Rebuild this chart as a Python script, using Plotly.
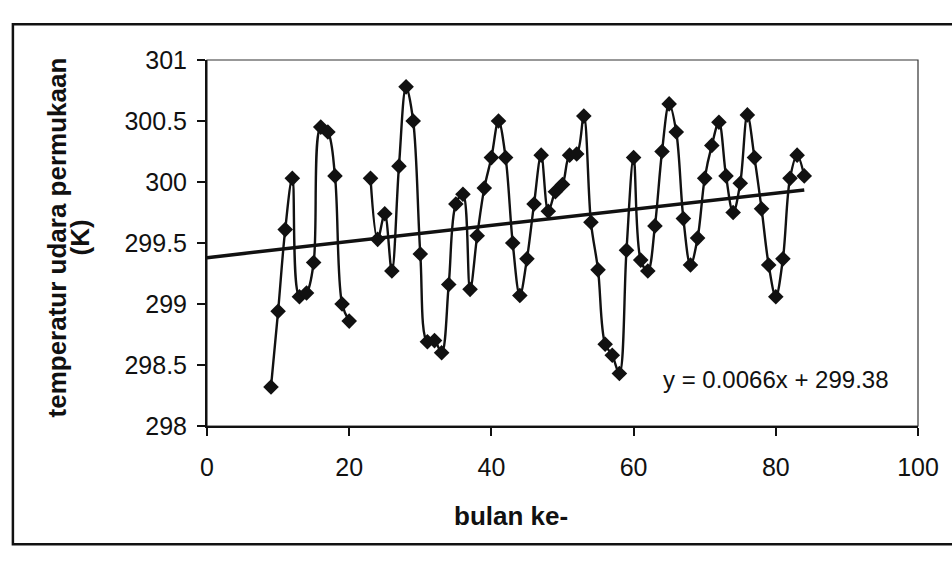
import plotly.graph_objects as go

# month index (bulan ke-); months 21 and 22 are missing in the source chart
months = [9, 10, 11, 12, 13, 14, 15, 16, 17, 18, 19, 20, 21, 22,
          23, 24, 25, 26, 27, 28, 29, 30, 31, 32, 33, 34, 35, 36, 37, 38,
          39, 40, 41, 42, 43, 44, 45, 46, 47, 48, 49, 50, 51, 52, 53, 54,
          55, 56, 57, 58, 59, 60, 61, 62, 63, 64, 65, 66, 67, 68, 69, 70,
          71, 72, 73, 74, 75, 76, 77, 78, 79, 80, 81, 82, 83, 84]

temperature = [298.32, 298.94, 299.61, 300.03, 299.06, 299.09, 299.34, 300.45, 300.41, 300.05, 299.00, 298.86, None, None,
               300.03, 299.53, 299.74, 299.27, 300.13, 300.78, 300.50, 299.41, 298.69, 298.70, 298.60, 299.16, 299.82, 299.90, 299.12, 299.56,
               299.95, 300.20, 300.50, 300.20, 299.50, 299.07, 299.37, 299.82, 300.22, 299.76, 299.92, 299.98, 300.22, 300.23, 300.54, 299.67,
               299.28, 298.67, 298.58, 298.43, 299.44, 300.20, 299.36, 299.27, 299.64, 300.25, 300.64, 300.41, 299.70, 299.32, 299.54, 300.03,
               300.30, 300.49, 300.05, 299.75, 299.99, 300.55, 300.20, 299.78, 299.32, 299.06, 299.37, 300.03, 300.22, 300.05]

# linear trend shown on the chart: y = 0.0066x + 299.38, drawn from month 0 to 84
trend_slope = 0.0066
trend_intercept = 299.38
trend_x = [0, 84]
trend_y = [trend_slope * x + trend_intercept for x in trend_x]

x_ticks = [0, 20, 40, 60, 80, 100]
y_ticks = [298, 298.5, 299, 299.5, 300, 300.5, 301]
y_tick_labels = ["298", "298.5", "299", "299.5", "300", "300.5", "301"]

FONT = "Liberation Sans, Arial, sans-serif"

fig = go.Figure()

fig.add_trace(go.Scatter(
    x=trend_x, y=trend_y, mode="lines",
    line=dict(color="#111111", width=3.5),
    hoverinfo="skip", showlegend=False,
))

fig.add_trace(go.Scatter(
    x=months, y=temperature, mode="lines+markers",
    connectgaps=False,
    line=dict(color="#111111", width=2.4, shape="spline", smoothing=1),
    marker=dict(symbol="diamond", size=12, color="#111111"),
    showlegend=False,
))

fig.add_annotation(
    x=80, y=298.38, xref="x", yref="y",
    text="y = 0.0066x + 299.38", showarrow=False,
    font=dict(family=FONT, size=24, color="#111111"),
    xanchor="center", yanchor="middle",
)

# y-axis title (two lines, rotated)
fig.add_annotation(
    x=-0.211, y=0.515, xref="paper", yref="paper",
    text="<b>temperatur udara permukaan</b>", showarrow=False, textangle=-90,
    font=dict(family=FONT, size=26, color="#111111"),
    xanchor="center", yanchor="middle",
)
fig.add_annotation(
    x=-0.18, y=0.515, xref="paper", yref="paper",
    text="<b>(K)</b>", showarrow=False, textangle=-90,
    font=dict(family=FONT, size=26, color="#111111"),
    xanchor="center", yanchor="middle",
)
# x-axis title
fig.add_annotation(
    x=0.428, y=-0.247, xref="paper", yref="paper",
    text="<b>bulan ke-</b>", showarrow=False,
    font=dict(family=FONT, size=26, color="#111111"),
    xanchor="center", yanchor="middle",
)

# plot-area border (thin) and chart-area frame
fig.add_shape(type="rect", xref="paper", yref="paper", x0=0, x1=1, y0=0, y1=1,
              line=dict(color="#333333", width=1.2), layer="below")
fig.add_shape(type="rect", xref="paper", yref="paper", x0=-0.273, x1=1.2, y0=-0.323, y1=1.098,
              line=dict(color="#111111", width=2.5), layer="below")

fig.update_xaxes(
    range=[0, 100], tickvals=x_ticks, ticktext=[str(v) for v in x_ticks],
    showline=True, linecolor="#111111", linewidth=2,
    ticks="outside", ticklen=8, tickwidth=2, tickcolor="#111111",
    showgrid=False, zeroline=False, ticklabelstandoff=10,
    tickfont=dict(family=FONT, size=25, color="#111111"),
)
fig.update_yaxes(
    range=[298, 301], tickvals=y_ticks, ticktext=y_tick_labels,
    showline=True, linecolor="#111111", linewidth=2,
    ticks="outside", ticklen=8, tickwidth=2, tickcolor="#111111",
    showgrid=False, zeroline=False, ticklabelstandoff=5,
    tickfont=dict(family=FONT, size=25, color="#111111"),
)

fig.update_layout(
    width=952, height=564,
    margin=dict(l=207, r=34, t=60, b=138),
    paper_bgcolor="white", plot_bgcolor="white",
    font=dict(family=FONT, color="#111111"),
)

fig.write_html(
    "out.html",
    config={"displayModeBar": False},
    post_script="document.body.style.margin='0';document.body.style.overflow='hidden';",
)
